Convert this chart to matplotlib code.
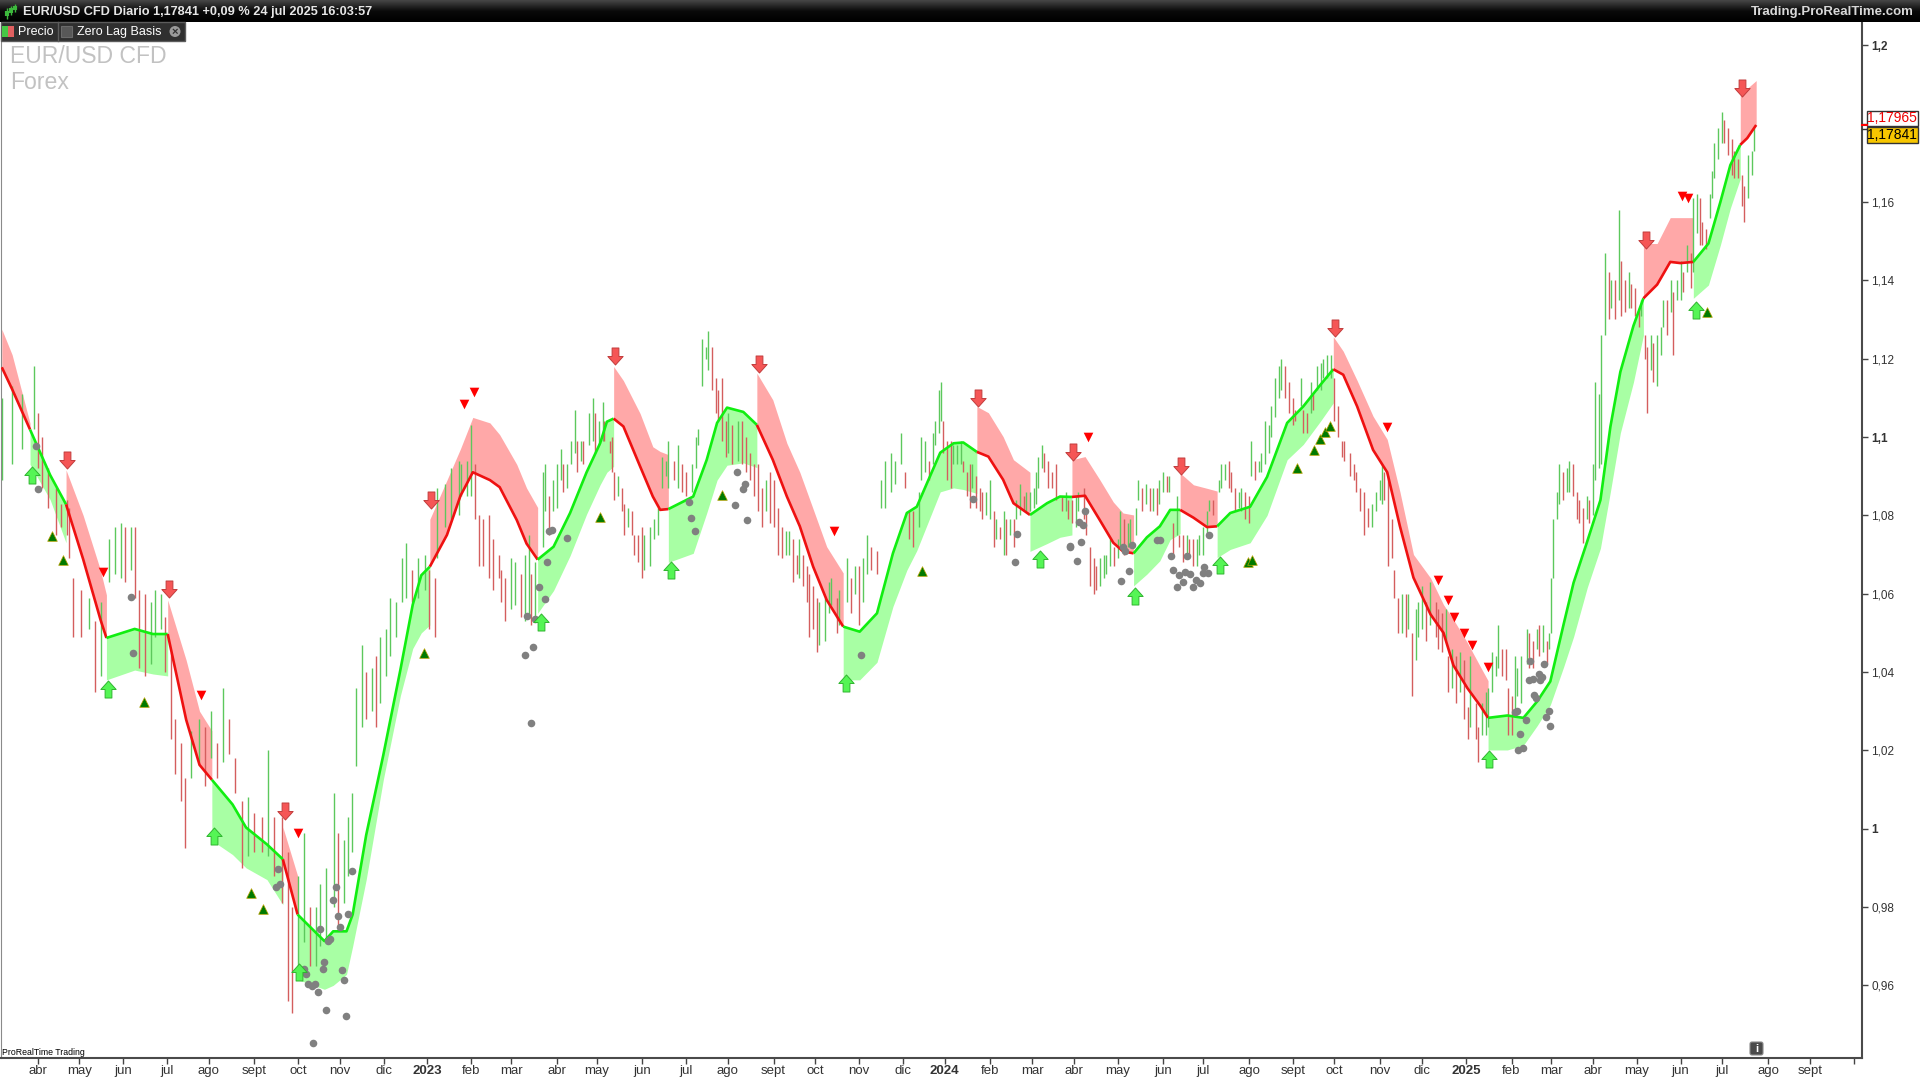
import numpy as np
import pandas as pd
import matplotlib
matplotlib.use("Agg")
import matplotlib.pyplot as plt
from matplotlib.path import Path
from matplotlib.patches import Rectangle, FancyBboxPatch, Circle
from matplotlib.colors import LinearSegmentedColormap

plt.rcParams["font.family"] = ["Liberation Sans", "DejaVu Sans"]

# eje x: indice de dia habil contando desde el 8 mar 2022
dias = pd.bdate_range("2022-03-08", "2025-10-31")

# barras de precio (maximo / minimo en milesimas)
bar_idx = [0, 5, 10, 16, 18, 20, 23, 27, 30, 33,
           34, 36, 40, 44, 47, 50, 54, 57, 60, 62,
           65, 67, 69, 72, 75, 77, 80, 82, 85, 87,
           90, 92, 95, 99, 102, 105, 108, 111, 114, 117,
           121, 124, 127, 131, 134, 137, 141, 144, 146, 149,
           152, 155, 158, 160, 163, 167, 169, 172, 174, 176,
           178, 181, 183, 186, 188, 190, 193, 195, 198, 201,
           203, 206, 209, 213, 215, 218, 219, 223, 226, 230,
           231, 234, 236, 238, 240, 242, 245, 247, 250, 251,
           253, 256, 258, 261, 263, 265, 266, 268, 272, 273,
           275, 277, 279, 281, 282, 284, 286, 288, 289, 291,
           292, 295, 297, 298, 300, 302, 303, 306, 307, 308,
           310, 312, 313, 315, 317, 318, 320, 322, 323, 326,
           328, 330, 332, 334, 335, 338, 340, 342, 344, 347,
           349, 350, 352, 354, 355, 357, 359, 360, 362, 364,
           365, 367, 370, 372, 374, 376, 378, 380, 382, 384,
           386, 388, 390, 392, 394, 396, 398, 400, 401, 403,
           405, 406, 408, 410, 411, 414, 416, 417, 420, 421,
           425, 427, 429, 431, 433, 435, 437, 440, 442, 444,
           447, 449, 452, 454, 456, 458, 461,
           462, 464, 466, 468, 469, 471, 472, 473, 475, 477,
           478, 480, 482, 483, 485, 487, 488, 490, 492, 493,
           495, 497, 499, 500, 502, 504, 505, 507, 509, 510,
           512, 514, 515, 517, 519, 520, 521, 523, 524, 526,
           528, 530, 533, 535, 536, 538, 540, 541, 544, 545,
           547, 549, 550, 552, 554, 555, 557, 559, 561, 562,
           564, 566, 567, 570, 571, 573, 575, 577, 579, 581,
           582, 584, 586, 587, 589, 591, 592, 594, 596, 597,
           599, 601, 602, 604, 606, 607, 609, 612, 613, 615,
           617, 618, 620, 622, 623, 625, 627, 628, 630, 632,
           633, 635, 637, 638, 640, 642, 643, 645, 647, 649,
           650, 653, 654, 656, 658, 659, 661, 663, 664, 666,
           668, 670, 672, 674, 675, 678, 680, 681, 683, 685,
           687, 689, 691, 693,
           694, 695, 697, 699, 700, 702, 704, 706, 707, 709,
           711, 712, 714, 716, 718, 721, 722, 724, 726, 727,
           729, 731, 733, 735, 737, 738, 741, 742, 744, 746,
           747, 749, 751, 752, 754, 756, 757, 759, 761, 762,
           764, 767, 768, 770, 772, 773, 775, 777, 778, 779,
           780, 782, 783, 785, 787, 788, 790, 792, 793, 795,
           797, 798, 800, 801, 803, 804, 806, 808, 809, 811,
           813, 814, 816, 818, 819, 821, 823, 824, 826, 827,
           829, 830, 832, 834, 835, 837, 839, 840, 842, 844,
           845, 847, 849, 850, 852, 854, 855, 857, 859, 860,
           861, 863, 865, 866, 868, 870, 871, 873, 875, 876,
           878, 880, 881]
bar_max = [1110, 1113, 1111, 1118, 1106, 1100, 1092, 1087, 1083, 1084,
           1082, 1064, 1061, 1059, 1053, 1058, 1074, 1077, 1078, 1077,
           1077, 1077, 1061, 1060, 1058, 1061, 1060, 1054, 1045, 1028,
           1022, 1013, 1025, 1028, 1026, 1030, 1022, 1036, 1028, 1018,
           1007, 1008, 1004, 1003, 1020, 1003, 1003, 994, 980, 988,
           999, 980, 980, 986, 990, 1009, 999, 997, 1003, 1009,
           1036, 1047, 1040, 1041, 1044, 1049, 1051, 1059, 1058, 1069,
           1073, 1066, 1069, 1070, 1066, 1064, 1087, 1088, 1092, 1094,
           1093, 1094, 1103, 1093, 1080, 1079, 1080, 1074, 1070, 1066,
           1064, 1069, 1068, 1065, 1070, 1075, 1065, 1068, 1091, 1093,
           1085, 1089, 1093, 1097, 1093, 1093, 1099, 1107, 1099, 1099,
           1099, 1106, 1110, 1106, 1104, 1109, 1104, 1099, 1100, 1091,
           1090, 1087, 1083, 1082, 1081, 1075, 1075, 1077, 1075, 1077,
           1079, 1082, 1095, 1094, 1099, 1094, 1098, 1093, 1091, 1093,
           1100, 1102, 1125, 1123, 1127, 1123, 1115, 1112, 1115, 1104,
           1106, 1103, 1104, 1104, 1100, 1096, 1093, 1093, 1087, 1089,
           1091, 1089, 1082, 1077, 1076, 1076, 1074, 1070, 1074, 1070,
           1067, 1065, 1062, 1059, 1058, 1059, 1063, 1064, 1059, 1061,
           1069, 1064, 1067, 1067, 1069, 1075, 1072, 1071, 1089, 1094,
           1096, 1094, 1101, 1091, 1081, 1081, 1086,
           1100, 1099, 1094, 1101, 1104, 1112, 1114, 1104, 1099, 1099,
           1098, 1098, 1099, 1094, 1091, 1093, 1093, 1090, 1087, 1086,
           1086, 1089, 1081, 1079, 1077, 1081, 1079, 1079, 1079, 1084,
           1088, 1085, 1086, 1086, 1087, 1091, 1095, 1098, 1096, 1094,
           1091, 1093, 1085, 1086, 1084, 1084, 1085, 1086, 1087, 1081,
           1072, 1069, 1067, 1069, 1070, 1070, 1074, 1072, 1074, 1081,
           1079, 1078, 1079, 1082, 1089, 1087, 1088, 1087, 1087, 1087,
           1089, 1091, 1090, 1090, 1078, 1085, 1075, 1075, 1075, 1074,
           1074, 1074, 1075, 1077, 1081, 1084, 1084, 1089, 1093, 1093,
           1094, 1091, 1087, 1086, 1087, 1086, 1085, 1099, 1094, 1094,
           1096, 1104, 1103, 1108, 1115, 1118, 1120, 1118, 1114, 1110,
           1107, 1115, 1107, 1106, 1114, 1111, 1118, 1119, 1120, 1121,
           1121, 1115, 1108, 1099, 1099, 1096, 1093, 1091, 1087, 1086,
           1082, 1083, 1086, 1089,
           1093, 1091, 1090, 1079, 1066, 1059, 1060, 1060, 1060, 1050,
           1056, 1058, 1062, 1058, 1063, 1058, 1056, 1055, 1056, 1044,
           1046, 1044, 1045, 1043, 1031, 1044, 1032, 1026, 1032, 1035,
           1036, 1045, 1044, 1052, 1046, 1046, 1036, 1034, 1044, 1041,
           1044, 1051, 1050, 1048, 1051, 1052, 1052, 1048, 1050, 1064,
           1079, 1086, 1093, 1091, 1092, 1094, 1093, 1086, 1084, 1082,
           1085, 1084, 1093, 1114, 1111, 1126, 1147, 1142, 1140, 1140,
           1158, 1145, 1140, 1142, 1139, 1138, 1133, 1135, 1126, 1123,
           1126, 1124, 1126, 1128, 1135, 1135, 1140, 1137, 1140, 1145,
           1142, 1149, 1147, 1161, 1162, 1161, 1155, 1153, 1162, 1168,
           1175, 1179, 1183, 1181, 1179, 1176, 1173, 1171, 1167, 1164,
           1172, 1173, 1179]
bar_min = [1089, 1093, 1097, 1102, 1092, 1087, 1082, 1075, 1077, 1075,
           1069, 1049, 1049, 1051, 1035, 1039, 1063, 1065, 1064, 1063,
           1066, 1059, 1041, 1039, 1042, 1049, 1051, 1040, 1023, 1014,
           1007, 995, 1013, 1017, 1011, 1018, 1013, 1017, 1019, 1009,
           990, 993, 994, 994, 993, 988, 981, 956, 953, 962,
           971, 965, 965, 970, 971, 980, 975, 981, 988, 994,
           1016, 1026, 1028, 1030, 1026, 1032, 1039, 1044, 1049, 1058,
           1059, 1058, 1059, 1061, 1051, 1049, 1069, 1077, 1079, 1080,
           1085, 1085, 1085, 1079, 1067, 1067, 1064, 1061, 1064, 1058,
           1053, 1056, 1057, 1054, 1053, 1054, 1052, 1053, 1072, 1081,
           1075, 1081, 1082, 1089, 1086, 1087, 1093, 1096, 1091, 1094,
           1093, 1098, 1099, 1096, 1098, 1099, 1099, 1096, 1091, 1084,
           1085, 1081, 1075, 1077, 1075, 1070, 1068, 1064, 1066, 1067,
           1074, 1075, 1087, 1090, 1087, 1089, 1087, 1086, 1085, 1086,
           1092, 1098, 1113, 1120, 1117, 1112, 1106, 1104, 1099, 1095,
           1096, 1093, 1094, 1093, 1091, 1089, 1085, 1081, 1077, 1081,
           1078, 1077, 1070, 1069, 1070, 1070, 1063, 1065, 1064, 1062,
           1058, 1049, 1051, 1045, 1047, 1048, 1055, 1057, 1050, 1052,
           1058, 1055, 1060, 1052, 1058, 1065, 1066, 1065, 1082, 1082,
           1086, 1088, 1093, 1087, 1074, 1072, 1077,
           1089, 1091, 1089, 1093, 1098, 1101, 1104, 1096, 1089, 1087,
           1093, 1093, 1093, 1091, 1085, 1082, 1087, 1082, 1081, 1079,
           1080, 1079, 1072, 1074, 1074, 1070, 1070, 1075, 1072, 1079,
           1080, 1081, 1081, 1081, 1082, 1083, 1087, 1092, 1091, 1087,
           1087, 1084, 1081, 1081, 1079, 1078, 1077, 1081, 1079, 1075,
           1062, 1060, 1061, 1062, 1064, 1065, 1067, 1067, 1069, 1072,
           1070, 1072, 1073, 1075, 1084, 1081, 1083, 1081, 1081, 1080,
           1083, 1086, 1086, 1086, 1070, 1075, 1072, 1068, 1070, 1069,
           1067, 1067, 1070, 1070, 1075, 1081, 1080, 1086, 1087, 1089,
           1087, 1086, 1081, 1082, 1081, 1079, 1078, 1090, 1089, 1091,
           1091, 1093, 1096, 1100, 1105, 1110, 1112, 1110, 1106, 1103,
           1104, 1108, 1101, 1101, 1106, 1107, 1112, 1112, 1115, 1115,
           1115, 1104, 1100, 1095, 1094, 1090, 1089, 1086, 1081, 1075,
           1077, 1077, 1081, 1084,
           1083, 1084, 1067, 1069, 1059, 1050, 1050, 1049, 1051, 1034,
           1043, 1049, 1051, 1048, 1052, 1049, 1046, 1045, 1048, 1035,
           1036, 1032, 1035, 1028, 1023, 1026, 1023, 1017, 1024, 1024,
           1026, 1035, 1039, 1041, 1039, 1038, 1024, 1024, 1030, 1034,
           1032, 1042, 1041, 1041, 1046, 1044, 1045, 1042, 1046, 1050,
           1064, 1079, 1083, 1084, 1086, 1086, 1085, 1079, 1078, 1073,
           1079, 1078, 1080, 1089, 1092, 1093, 1126, 1130, 1133, 1130,
           1135, 1131, 1132, 1133, 1133, 1131, 1128, 1131, 1120, 1106,
           1117, 1114, 1113, 1121, 1128, 1126, 1132, 1121, 1135, 1135,
           1137, 1142, 1138, 1142, 1152, 1149, 1149, 1148, 1156, 1161,
           1166, 1171, 1175, 1175, 1172, 1167, 1166, 1166, 1159, 1155,
           1161, 1167, 1173]

# Zero Lag Basis por tramos: R = bajista (banda encima), G = alcista (banda debajo)
tramo_color = ["R", "G", "R", "G", "R", "G", "R", "G", "R", "G", "R", "G", "R",
               "G", "R", "G", "R", "G", "R", "G", "R", "G", "R", "G", "R"]
tramo_idx = [
    [0, 5.2, 14.2],
    [14.2, 24.3, 32.3],
    [32.3, 40.9, 49.6, 52.6],
    [52.6, 66.8, 76, 83.4],
    [83.4, 92.7, 99.4, 105.6],
    [105.6, 116, 122.8, 133.3, 141.3],
    [141.3, 148.7],
    [148.7, 162.2, 166.6, 173.3, 176.4, 183.2, 191.8, 200.4, 206.6, 210.9, 215.2],
    [215.2, 223.8, 230.6, 236.8, 245.4, 250.3, 258.9, 263.8, 269.4],
    [269.4, 277.4, 285.7, 294, 300.8, 304.2, 307.6],
    [307.6, 312.5, 320.9, 327.3, 331, 335.1],
    [335.1, 347.6, 354.4, 359.6, 364.6, 372.8, 379.6],
    [379.6, 387.6, 394.7, 401.2, 407.9, 414.7, 423],
    [423, 431.3, 440, 448, 455, 460, 471.8, 478.5, 483.4, 490.2],
    [490.2, 496, 503.4, 508.6, 516.9],
    [516.9, 525.5, 532, 538],
    [538, 544.6, 552, 558.8, 563.7, 569],
    [569, 575.7, 582.2, 587.4, 592.4],
    [592.4, 599.1, 605.9, 611],
    [611, 617.6, 627.6, 636.1, 646.2, 654.3, 662.9, 669.4],
    [669.4, 674.4, 681.4, 689.4, 696.5, 702.9, 709.7, 718.3, 724.8, 729.8, 736.8, 743.4, 747.2],
    [747.2, 756.9, 765, 771.9, 778.5, 785.2, 790.2, 797.1, 803.7, 808.7, 813.7, 820.3, 825.3],
    [825.3, 832.2, 838.8, 843.9, 850.4],
    [850.4, 858, 864, 869, 874],
    [874, 877.5, 882],
]
tramo_base = [
    [1117.8, 1112.2, 1101.9],
    [1101.9, 1090.3, 1082.8],
    [1082.8, 1068.8, 1053.4, 1048.7],
    [1048.7, 1051, 1049.7, 1049.7],
    [1049.7, 1027.8, 1016.3, 1012.5],
    [1012.5, 1006.2, 1000.3, 996, 992.2],
    [992.2, 978.1],
    [978.1, 971.3, 973.8, 973.8, 978.1, 998.4, 1018.8, 1040.6, 1057.2, 1064.7, 1066.9],
    [1066.9, 1075, 1085, 1091, 1089, 1087.2, 1078.8, 1072.8, 1068.7],
    [1068.7, 1072, 1080.6, 1091, 1098.4, 1103.9, 1104.7],
    [1104.7, 1102.7, 1092.5, 1084.8, 1081.4, 1081.6],
    [1081.6, 1084.8, 1094.2, 1103.6, 1107.5, 1106.4, 1103.1],
    [1103.1, 1094.2, 1084.8, 1077.2, 1066.9, 1058.4, 1051.6],
    [1051.6, 1050.3, 1055, 1070.3, 1080.6, 1082.2, 1096, 1098.4, 1098.6, 1096.2],
    [1096.2, 1095, 1089.1, 1083.1, 1080.1],
    [1080.1, 1083.1, 1084.8, 1084.7],
    [1084.7, 1085, 1078.8, 1073, 1070.8, 1070.3],
    [1070.3, 1074.4, 1077.2, 1081.4, 1081.4],
    [1081.4, 1079.4, 1077, 1077.2],
    [1077.2, 1080.6, 1082.2, 1089.8, 1103.6, 1107.8, 1113.3, 1117.3],
    [1117.3, 1115.9, 1107.8, 1096.7, 1091, 1077.2, 1064.1, 1054.7, 1050, 1041.7, 1035.9, 1031.3, 1028.3],
    [1028.3, 1028.9, 1028.3, 1032.5, 1037.6, 1052.2, 1062.8, 1073.4, 1083.9, 1102.6, 1116.6, 1128.4, 1135.4],
    [1135.4, 1138.9, 1144.7, 1144.4, 1144.7],
    [1144.7, 1149.4, 1160, 1169.4, 1174.6],
    [1174.6, 1176.3, 1179.65],
]
tramo_banda = [
    [1127.5, 1121, 1103.5],
    [1093, 1084, 1073],
    [1091.6, 1080, 1066, 1059.7],
    [1038, 1040.5, 1039.5, 1039],
    [1058.4, 1043, 1030, 1025],
    [997, 993.4, 990, 987, 980.6],
    [1000.4, 988],
    [961.5, 959, 960, 962.8, 970, 987, 1012.5, 1034, 1046, 1050, 1052],
    [1079, 1089, 1097, 1105, 1103.6, 1100.6, 1093, 1087, 1082],
    [1055, 1060.8, 1069.7, 1080.3, 1087.8, 1091, 1092.5],
    [1118, 1114.4, 1106, 1097.5, 1096.3, 1095.5],
    [1068, 1070.3, 1080.6, 1089, 1092.8, 1093.4, 1092.2],
    [1116.3, 1109.5, 1098.4, 1091, 1081.6, 1072, 1065.3],
    [1038, 1038, 1042.5, 1056.7, 1066, 1071, 1086, 1087, 1086.6, 1085.6],
    [1107.8, 1106.2, 1100.1, 1094.2, 1091],
    [1070.8, 1072.8, 1074.4, 1075],
    [1094.2, 1095, 1089.1, 1083.4, 1080.6, 1080.1],
    [1062, 1065, 1068.4, 1073.8, 1075.3],
    [1090.8, 1087.8, 1086.9, 1086.2],
    [1069.2, 1071.3, 1073, 1080, 1094.2, 1098.1, 1104, 1108.7],
    [1125.6, 1121.9, 1114.4, 1105.3, 1099.4, 1086, 1070, 1064, 1057.2, 1053.4, 1047.5, 1041.3, 1037.8],
    [1020.1, 1020.1, 1021.3, 1026.3, 1031.6, 1041.3, 1049, 1061.6, 1071.6, 1086, 1101, 1114, 1126],
    [1149.4, 1149.4, 1156, 1156, 1156],
    [1135.4, 1138.8, 1149, 1158.4, 1165.9],
    [1187.5, 1189, 1191],
]

# señales
fbaja_idx = [32.9, 84, 142.5, 215.8, 308.2, 380.8, 491, 538.5, 592.7, 670.3, 826.7, 874.7]
fbaja_val = [1094.1, 1061.2, 1004.4, 1084, 1120.6, 1118.7, 1110, 1096.2, 1092.5, 1127.8, 1150.3, 1189.1]
fsube_idx = [15.1, 53.3, 106.8, 149.5, 271.2, 336.5, 424.6, 521.9, 569.9, 612.4, 747.8, 851.9]
fsube_val = [1090.3, 1035.6, 998.1, 963.3, 1052.8, 1066, 1037.2, 1068.8, 1059.4, 1067.2, 1017.8, 1132.5]
tbaja_idx = [50.8, 100, 148.7, 232.4, 237.4, 418.4, 545.9, 696.3, 722.2, 727.3, 730.1, 735.1,
             739.3, 747.4, 844.6, 847.9]
tbaja_val = [1065.6, 1034.1, 998.8, 1108.4, 1111.6, 1075.9, 1100, 1102.6, 1063.6, 1058.3, 1054,
             1049.9, 1047, 1041.3, 1161.4, 1161.1]
tsube_idx = [25.4, 30.6, 71.7, 125.1, 131.2, 212.4, 300.5, 362, 462.6, 626.5, 628.4, 651.2,
             659.5, 662.5, 665.3, 667.8, 857.3]
tsube_val = [1074.7, 1068.7, 1032.4, 983.7, 979.5, 1044.9, 1079.5, 1085.2, 1065.8, 1068.2, 1068.6,
             1092, 1096.6, 1099.4, 1101.4, 1102.7, 1131.9]
punto_idx = [17, 18, 65, 66.1, 139, 137.9, 139.9, 152.1, 153, 154.1, 155.8, 157.5, 159.2, 160,
             161.4, 162, 164.2, 165, 166.7, 167.9, 168.9, 170.1, 171.2, 172.1, 173.9, 175.9,
             162.9, 172.9, 156.6,
             275.3, 276.5, 274, 284, 270.1, 273.1, 263.9, 268.1, 266.9, 263, 265.9, 345.7, 346.4,
             348.6, 369.5, 373.7, 372.5, 368.7, 374.5, 432,
             488.2, 510.3, 509.5, 544.7, 541.5, 543.5, 537.1, 536.9, 542.6, 540.5, 563.6, 564.8,
             568.2, 566.8, 562.6, 581, 582.4, 587.7, 595.8, 588.8, 591.6, 594.9, 597.2, 593.8,
             590.8, 599.1, 600.5, 602.2, 604.6, 603.9, 606.2, 607,
             768.5, 775.2, 767.6, 769.8, 772.6, 773.1, 774.3, 770.1, 771.5, 760.6, 761.8, 766.3,
             763.4, 777.6, 776.4, 778.5, 762.3, 765]
punto_val = [1097.8, 1086.8, 1059.2, 1044.9, 989.6, 985.2, 985.9, 964.3, 963, 960.4, 959.8, 960.4,
             958.3, 974.5, 964.3, 965.9, 971.3, 971.9, 981.7, 985, 977.6, 974.8, 963.9, 961.5,
             978.1, 989.3, 953.7, 952.2, 945.2,
             1075.9, 1076.3, 1068, 1074.3, 1061.8, 1058.7, 1054.2, 1053.5, 1046.5, 1044.4, 1027,
             1083.5, 1079.2, 1075.9, 1091, 1088, 1086.8, 1082.7, 1078.7, 1044.4,
             1084.2, 1075.3, 1068.1, 1081, 1078.4, 1077.6, 1072.3, 1071.8, 1073.3, 1068.4, 1071.8,
             1070.8, 1072.5, 1065.9, 1063.3, 1073.8, 1073.8, 1069.5, 1069.5, 1066.1, 1064.7,
             1065.5, 1065.1, 1062.9, 1061.6, 1061.8, 1063.5, 1062.7, 1066.9, 1065.2, 1065.4, 1075,
             1042.7, 1042, 1038, 1038.2, 1039.4, 1038, 1038.8, 1034.1, 1033.3, 1029.8, 1030,
             1027.7, 1024.2, 1030, 1028.6, 1026.3, 1020.1, 1020.7]

y_ticks = [0.96, 0.98, 1.0, 1.02, 1.04, 1.06, 1.08, 1.1, 1.12, 1.14, 1.16, 1.18, 1.2]
y_labels = ["0,96", "0,98", "1", "1,02", "1,04", "1,06", "1,08", "1,1", "1,12", "1,14", "1,16", "", "1,2"]
meses = ["ene", "feb", "mar", "abr", "may", "jun", "jul", "ago", "sept", "oct", "nov", "dic"]

W, H = 1920, 1080
fig = plt.figure(figsize=(19.2, 10.8), dpi=100, facecolor="white")
ax = fig.add_axes([1 / W, 22 / H, 1861 / W, 1036 / H])

# barras
bi = np.array(bar_idx)
bh = np.array(bar_max) / 1000
bl = np.array(bar_min) / 1000
mid = (bh + bl) / 2
sube = np.r_[True, mid[1:] >= mid[:-1]]
ax.vlines(bi, bl, bh, colors=np.where(sube, "#5cc85c", "#d45e5e"), lw=1.0, zorder=2)

# banda y linea base
for c, xi, b, e in zip(tramo_color, tramo_idx, tramo_base, tramo_banda):
    b = np.array(b) / 1000
    e = np.array(e) / 1000
    if c == "R":
        ax.fill_between(xi, b, e, color="#ffa8a8", lw=0, zorder=1)
        ax.plot(xi, b, color="#ee1111", lw=1.9, zorder=3, solid_capstyle="butt")
    else:
        ax.fill_between(xi, b, e, color="#a8ffa4", lw=0, zorder=1)
        ax.plot(xi, b, color="#11ee11", lw=1.9, zorder=3, solid_capstyle="butt")

# flechas
v = [(-0.2, 0.5), (0.2, 0.5), (0.2, 0.0), (0.45, 0.0), (0.0, -0.5), (-0.45, 0.0), (-0.2, 0.0), (-0.2, 0.5)]
flecha_abajo = Path(v, [Path.MOVETO] + [Path.LINETO] * 6 + [Path.CLOSEPOLY])
flecha_arriba = Path([(x, -y) for x, y in v], [Path.MOVETO] + [Path.LINETO] * 6 + [Path.CLOSEPOLY])
ax.scatter(fbaja_idx, np.array(fbaja_val) / 1000, marker=flecha_abajo, s=150,
           fc="#f55656", ec="#c23c3c", lw=0.7, zorder=6)
ax.scatter(fsube_idx, np.array(fsube_val) / 1000, marker=flecha_arriba, s=150,
           fc="#55f555", ec="#2fb52f", lw=0.7, zorder=6)
ax.scatter(tbaja_idx, np.array(tbaja_val) / 1000, marker="v", s=48, fc="#ff0000", lw=0, zorder=6)
ax.scatter(tsube_idx, np.array(tsube_val) / 1000, marker="^", s=48, fc="#007a00",
           ec="#b8a000", lw=0.5, zorder=6)
ax.scatter(punto_idx, np.array(punto_val) / 1000, s=30, c="#808080", lw=0, zorder=5)

ax.set_xlim(-0.4, 935.2)
ax.set_ylim(0.941461, 1.205948)

# meses
pos, lab = [], []
for i in range(1, len(dias)):
    if dias[i].month != dias[i - 1].month:
        pos.append(i)
        m = dias[i].month
        lab.append(str(dias[i].year) if m == 1 else meses[m - 1])
lab = [l if p < 925 else "" for p, l in zip(pos, lab)]
ax.set_xticks(pos)
ax.set_xticklabels(lab)
ax.yaxis.tick_right()
ax.set_yticks(y_ticks)
ax.set_yticklabels(y_labels)
ax.tick_params(axis="x", direction="out", length=4, width=1, color="#444444",
               labelsize=9.5, labelcolor="#333333", pad=1.0)
ax.tick_params(axis="y", direction="out", length=4, width=1, color="#444444",
               labelsize=8.5, labelcolor="#333333", pad=2.5)
for t in ax.get_xticklabels():
    if t.get_text().isdigit():
        t.set_fontweight("bold")
for t in ax.get_yticklabels():
    if t.get_text() in ("1,2", "1,1", "1"):
        t.set_fontweight("bold")
ax.spines["top"].set_visible(False)
ax.spines["left"].set_color("#8a8a8a")
ax.spines["right"].set_color("#4a4a4a")
ax.spines["right"].set_linewidth(1.5)
ax.spines["bottom"].set_color("#4a4a4a")
ax.spines["bottom"].set_linewidth(1.5)

# capa de adornos en pixeles
ov = fig.add_axes([0, 0, 1, 1], zorder=10)
grad = np.linspace(0, 1, 30).reshape(-1, 1)
cm = LinearSegmentedColormap.from_list("cab", ["#454545", "#0a0a0a", "#000000"])
ov.imshow(grad, extent=(0, W, 22, 0), aspect="auto", cmap=cm)
ov.set_xlim(0, W)
ov.set_ylim(H, 0)
ov.axis("off")

ov.vlines([7, 11, 15], [8, 6, 4], [19, 15, 12], color="#3cb83c", lw=1)
ov.vlines([7, 11, 15], [11, 8, 6], [16, 13, 10], color="#3cb83c", lw=3)
ov.text(23, 11.5, "EUR/USD CFD Diario 1,17841 +0,09 % 24 jul 2025 16:03:57", color="#e6e6e6",
        fontsize=9.2, fontweight="bold", va="center")
ov.text(1914, 11.5, "Trading.ProRealTime.com", color="#d8d8d8", fontsize=9.5,
        fontweight="bold", va="center", ha="right")

ov.add_patch(Rectangle((0.5, 22), 184, 19, fc="#2f2f2f", ec="#5c5c5c", lw=1))
ov.plot([57.5, 57.5], [22, 41], color="#5c5c5c", lw=1)
ov.add_patch(Rectangle((2, 26), 6, 11, fc="#46c846", lw=0))
ov.add_patch(Rectangle((8, 26), 6, 11, fc="#e06060", lw=0))
ov.text(18, 32, "Precio", color="white", fontsize=9, va="center")
ov.add_patch(Rectangle((61, 26), 11, 11, fc="#585858", ec="#6a6a6a", lw=0.8))
ov.text(77, 32, "Zero Lag Basis", color="white", fontsize=9, va="center")
ov.add_patch(Circle((175, 31.5), 5.5, fc="#9a9a9a", lw=0))
ov.text(175, 31.8, "×", color="#2f2f2f", fontsize=8, fontweight="bold", ha="center", va="center")

ov.text(10, 63, "EUR/USD CFD", color="#c2c2c2", fontsize=16.6, va="baseline")
ov.text(10, 89, "Forex", color="#c2c2c2", fontsize=16.6, va="baseline")
ov.text(2, 1055, "ProRealTime Trading", color="black", fontsize=6.3, va="baseline")

ov.plot([1862, 1867], [125, 125], color="#ff0000", lw=1.5)
ov.plot([1862, 1867], [129, 129], color="#333333", lw=1)
ov.add_patch(Rectangle((1866.5, 110.5), 51, 15.5, fc="white", ec="#333333", lw=1))
ov.text(1892, 118.5, "1,17965", color="#ee0000", fontsize=10, ha="center", va="center")
ov.add_patch(Rectangle((1866.5, 126.5), 51, 16.5, fc="#f7c600", ec="#333333", lw=1))
ov.text(1892, 135, "1,17841", color="black", fontsize=10, ha="center", va="center")

ov.add_patch(FancyBboxPatch((1750, 1042), 13, 13, boxstyle="round,pad=0,rounding_size=2",
                            fc="#4a4a4a", ec="#8a8a8a", lw=0.8))
ov.text(1756.5, 1048.8, "i", color="white", fontsize=8, fontweight="bold", ha="center", va="center")

fig.savefig("out.png", dpi=100, facecolor="white")
